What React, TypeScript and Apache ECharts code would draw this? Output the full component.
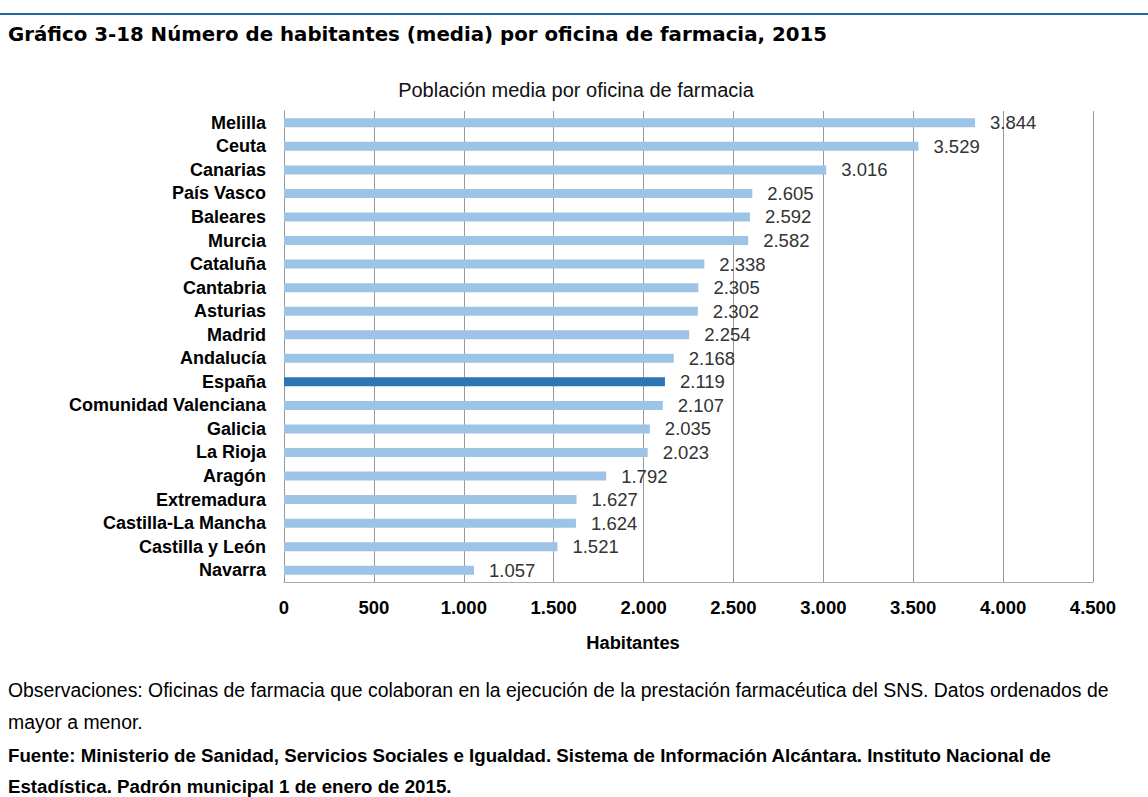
import React, { useEffect, useRef } from "react";
import * as echarts from "echarts";

const categories = [
  "Melilla", "Ceuta", "Canarias", "País Vasco", "Baleares", "Murcia", "Cataluña",
  "Cantabria", "Asturias", "Madrid", "Andalucía", "España", "Comunidad Valenciana",
  "Galicia", "La Rioja", "Aragón", "Extremadura", "Castilla-La Mancha",
  "Castilla y León", "Navarra",
];
const values = [
  3844, 3529, 3016, 2605, 2592, 2582, 2338, 2305, 2302, 2254, 2168, 2119, 2107,
  2035, 2023, 1792, 1627, 1624, 1521, 1057,
];
const highlighted = "España";

const titleText = "Gráfico 3-18 Número de habitantes (media) por oficina de farmacia, 2015";
const chartTitle = "Población media por oficina de farmacia";
const axisName = "Habitantes";
const notes = [
  { text: "Observaciones: Oficinas de farmacia que colaboran en la ejecución de la prestación farmacéutica del SNS. Datos ordenados de", bold: false },
  { text: "mayor a menor.", bold: false },
  { text: "Fuente: Ministerio de Sanidad, Servicios Sociales e Igualdad. Sistema de Información Alcántara. Instituto Nacional de", bold: true },
  { text: "Estadística. Padrón municipal 1 de enero de 2015.", bold: true },
];

const fmt = (v: number) => {
  const s = String(Math.round(v));
  return s.replace(/\B(?=(\d{3})+(?!\d))/g, ".");
};

const FONT = "'Liberation Sans', Arial, sans-serif";

export default function App() {
  const ref = useRef<HTMLDivElement>(null);
  useEffect(() => {
    if (!ref.current) return;
    const chart = echarts.init(ref.current, undefined, { renderer: "svg" });
    const noteY = [690, 722, 755, 786];
    chart.setOption({
      animation: false,
      textStyle: { fontFamily: FONT },
      graphic: [
        {
          type: "rect",
          shape: { x: 0, y: 13, width: 1148, height: 2 },
          style: { fill: "#1f6aa5" },
        },
        {
          type: "text",
          x: 8,
          y: 34,
          style: {
            text: titleText,
            fontFamily: "'DejaVu Sans', sans-serif",
            fontSize: 19.8,
            fontWeight: "bold",
            fill: "#000",
            verticalAlign: "middle",
          },
        },
        {
          type: "text",
          x: 576,
          y: 90,
          style: {
            text: chartTitle,
            fontFamily: FONT,
            fontSize: 20,
            fill: "#111",
            align: "center",
            verticalAlign: "middle",
          },
        },
        {
          type: "text",
          x: 633,
          y: 642,
          style: {
            text: axisName,
            fontFamily: FONT,
            fontSize: 18.3,
            fontWeight: "bold",
            fill: "#000",
            align: "center",
            verticalAlign: "middle",
          },
        },
        ...notes.map((n, i) => ({
          type: "text",
          x: 8,
          y: noteY[i],
          style: {
            text: n.text,
            fontFamily: FONT,
            fontSize: n.bold ? 18.7 : 19.4,
            fontWeight: n.bold ? "bold" : "normal",
            fill: "#000",
            verticalAlign: "middle",
          },
        })),
      ],
      grid: { left: 284, right: 55, top: 111, bottom: 215, containLabel: false },
      xAxis: {
        type: "value",
        min: 0,
        max: 4500,
        interval: 500,
        axisLine: { show: true, lineStyle: { color: "#aaa", width: 1 } },
        axisTick: { show: false },
        splitLine: { show: true, lineStyle: { color: "#999", width: 1 } },
        axisLabel: {
          margin: 16,
          fontFamily: FONT,
          fontSize: 18.5,
          fontWeight: "bold",
          color: "#000",
          formatter: (v: number) => fmt(v),
        },
      },
      yAxis: {
        type: "category",
        inverse: true,
        data: categories,
        axisLine: { show: true, lineStyle: { color: "#999", width: 1 } },
        axisTick: { show: false },
        axisLabel: {
          margin: 18,
          fontFamily: FONT,
          fontSize: 18,
          fontWeight: "bold",
          color: "#000",
        },
      },
      series: [
        {
          type: "bar",
          barWidth: 9,
          data: values.map((v, i) => ({
            value: v,
            itemStyle: { color: categories[i] === highlighted ? "#2e75b6" : "#9dc3e6" },
          })),
          label: {
            show: true,
            position: "right",
            distance: 15,
            fontFamily: FONT,
            fontSize: 18.5,
            color: "#333",
            formatter: (p: any) => fmt(p.value),
          },
        },
      ],
    });
    return () => chart.dispose();
  }, []);
  return (
    <div
      ref={ref}
      style={{ position: "fixed", left: 0, top: 0, width: 1148, height: 797, background: "#fff" }}
    />
  );
}
